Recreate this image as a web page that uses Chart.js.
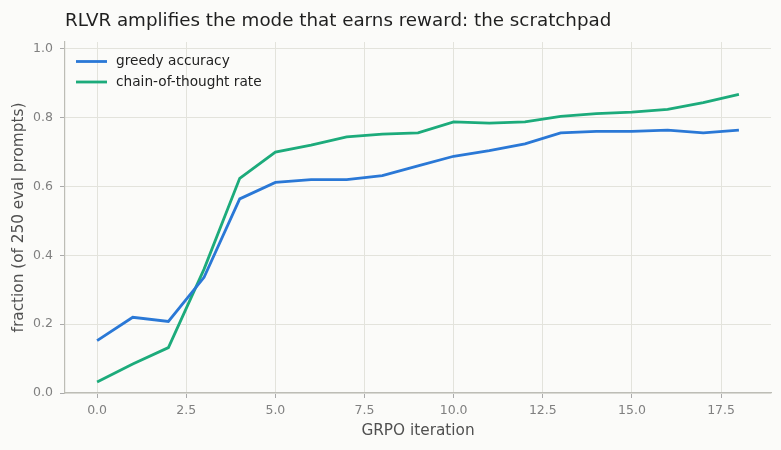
<!DOCTYPE html>
<html>
<head>
<meta charset="utf-8">
<script src="https://cdn.jsdelivr.net/npm/chart.js@4"></script>
<style>
  html, body { margin: 0; padding: 0; background: #fbfbf9; font-family: "DejaVu Sans"; }
  canvas { display: block; }
</style>
</head>
<body>
<canvas id="mycanvas" width="781" height="450"></canvas>
<script>
const iterations = [0, 1, 2, 3, 4, 5, 6, 7, 8, 9, 10, 11, 12, 13, 14, 15, 16, 17, 18];
const greedyAccuracy = [0.152, 0.220, 0.208, 0.336, 0.564, 0.612, 0.620, 0.620, 0.632, 0.660, 0.688, 0.704, 0.724, 0.756, 0.760, 0.760, 0.764, 0.756, 0.764];
const cotRate = [0.032, 0.084, 0.132, 0.360, 0.624, 0.700, 0.720, 0.744, 0.752, 0.756, 0.788, 0.784, 0.788, 0.804, 0.812, 0.816, 0.824, 0.844, 0.868];
const xTicks = [0, 2.5, 5, 7.5, 10, 12.5, 15, 17.5];
const yTicks = [0, 0.2, 0.4, 0.6, 0.8, 1.0];

const titleText = "RLVR amplifies the mode that earns reward: the scratchpad";
const FONT = "DejaVu Sans";

const canvas = document.getElementById("mycanvas");
const ctx = canvas.getContext("2d");

// background, title and in-plot legend
const decor = {
    id: "decor",
    beforeDraw(chart) {
        const c = chart.ctx;
        c.save();
        c.fillStyle = "#fbfbf9";
        c.fillRect(0, 0, chart.width, chart.height);
        c.restore();
    },
    afterDraw(chart) {
        const c = chart.ctx;
        const area = chart.chartArea;
        c.save();
        c.fillStyle = "#1f1f1f";
        c.font = "18.3px \"" + FONT + "\"";
        c.textBaseline = "alphabetic";
        c.textAlign = "left";
        c.fillText(titleText, area.left, 26);

        c.font = "13.7px \"" + FONT + "\"";
        c.textBaseline = "middle";
        chart.data.datasets.forEach((ds, i) => {
            const y = area.top + 19.5 + i * 20.5;
            c.strokeStyle = ds.borderColor;
            c.lineWidth = 2.8;
            c.beginPath();
            c.moveTo(area.left + 11, y);
            c.lineTo(area.left + 42, y);
            c.stroke();
            c.fillStyle = "#222";
            c.fillText(ds.label, area.left + 51, y);
        });
        c.restore();
    }
};

function draw() {
    new Chart(ctx, {
        type: "line",
        data: {
            datasets: [
                {
                    label: "greedy accuracy",
                    data: iterations.map((x, i) => ({ x: x, y: greedyAccuracy[i] })),
                    borderColor: "#2a78d6",
                    borderWidth: 2.8,
                    pointRadius: 0,
                    tension: 0
                },
                {
                    label: "chain-of-thought rate",
                    data: iterations.map((x, i) => ({ x: x, y: cotRate[i] })),
                    borderColor: "#1cab7b",
                    borderWidth: 2.8,
                    pointRadius: 0,
                    tension: 0
                }
            ]
        },
        options: {
            responsive: false,
            animation: false,
            devicePixelRatio: 1,
            layout: {
                padding: { top: 42, right: 10, left: 0, bottom: 0 }
            },
            plugins: {
                legend: { display: false },
                title: { display: false },
                tooltip: { enabled: false }
            },
            scales: {
                x: {
                    type: "linear",
                    min: -0.9,
                    max: 18.9,
                    afterBuildTicks: (scale) => { scale.ticks = xTicks.map(v => ({ value: v })); },
                    afterFit: (scale) => { scale.height = 57; },
                    ticks: {
                        callback: (v) => v.toFixed(1),
                        color: "#808080",
                        font: { family: FONT, size: 12.5 },
                        padding: 5,
                        maxRotation: 0,
                        autoSkip: false
                    },
                    grid: {
                        color: "#e3e3dc",
                        lineWidth: 1,
                        tickColor: "#aaaaaa",
                        tickLength: 5
                    },
                    border: { display: true, color: "#bdbdb6", width: 1.2 },
                    title: {
                        display: true,
                        text: "GRPO iteration",
                        color: "#505050",
                        font: { family: FONT, size: 15.3 },
                        padding: { top: 0, bottom: 9.5 }
                    }
                },
                y: {
                    type: "linear",
                    min: 0,
                    max: 1.02,
                    afterBuildTicks: (scale) => { scale.ticks = yTicks.map(v => ({ value: v })); },
                    afterFit: (scale) => { scale.width = 65; },
                    ticks: {
                        callback: (v) => v.toFixed(1),
                        color: "#808080",
                        font: { family: FONT, size: 12.5 },
                        padding: 7
                    },
                    grid: {
                        color: "#e3e3dc",
                        lineWidth: 1,
                        tickColor: "#aaaaaa",
                        tickLength: 5
                    },
                    border: { display: true, color: "#bdbdb6", width: 1.2 },
                    title: {
                        display: true,
                        text: "fraction (of 250 eval prompts)",
                        color: "#505050",
                        font: { family: FONT, size: 15.3 },
                        padding: { top: 9.5, bottom: 0 }
                    }
                }
            }
        },
        plugins: [decor]
    });
}

document.fonts.load("17px \"" + FONT + "\"").then(draw, draw);
</script>
</body>
</html>
